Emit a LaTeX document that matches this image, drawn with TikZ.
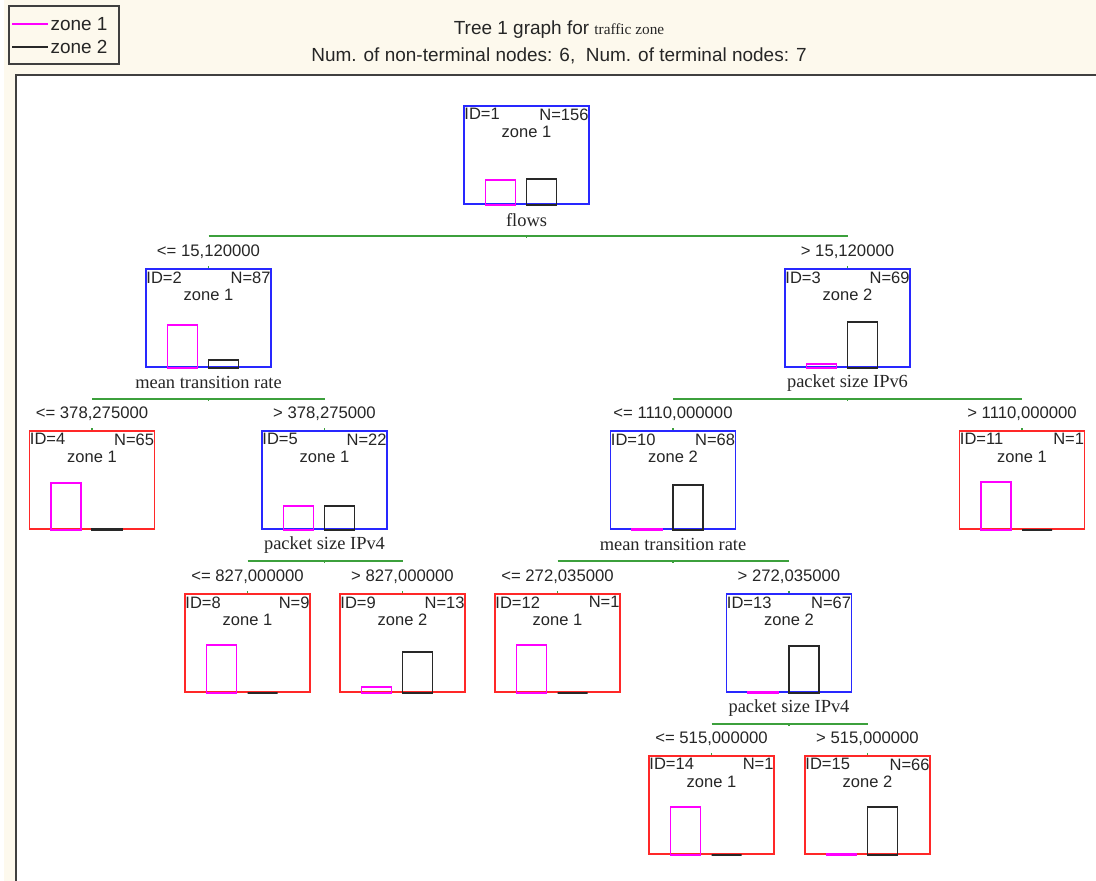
\documentclass[tikz,border=0pt]{standalone}
\usepackage{fontspec}
\setmainfont{Liberation Serif}
\setsansfont{Liberation Sans}
\usetikzlibrary{calc,positioning}
\definecolor{cream}{RGB}{253,249,237}
\definecolor{framegray}{RGB}{64,64,64}
\definecolor{splitgreen}{RGB}{60,160,60}
\definecolor{barpink}{RGB}{255,0,255}
\definecolor{barblack}{RGB}{40,40,40}
\definecolor{leafred}{RGB}{255,40,40}
\definecolor{splitblue}{RGB}{40,40,255}
\tikzset{
  splitbox/.style={
    draw=splitblue,
    line width=1.1pt,
    fill=white,
    minimum width=2.5cm,
    minimum height=1.96cm,
    inner sep=0pt
  },
  leafbox/.style={
    splitbox,
    draw=leafred
  },
  boxtext/.style={
    font=\sffamily\fontsize{9.4}{10}\selectfont,
    text=black!85,
    inner xsep=0.6pt,
    inner ysep=1.8pt
  },
  condtext/.style={
    font=\sffamily\fontsize{9.5}{10}\selectfont,
    text=black!85,
    inner sep=0pt
  },
  vartext/.style={
    font=\fontsize{10.5}{12}\selectfont,
    text=black!85,
    inner sep=0pt
  },
  titletext/.style={
    font=\sffamily\fontsize{10.8}{12}\selectfont,
    text=black!85,
    inner sep=0pt
  },
  pinkbar/.style={draw=barpink, line width=0.9pt},
  blackbar/.style={draw=barblack, line width=0.9pt},
  splitline/.style={draw=splitgreen, line width=0.9pt}
}
% one tree box: name, style, centre x, top y, ID, N, zone, pink height, black height
\newcommand{\treebox}[9]{%
  \node[#2] (#1) at (#3,#4+49) {};
  \node[boxtext, anchor=north west] (#1id) at (#1.north west) {ID=#5};
  \node[boxtext, anchor=north east] (#1n) at (#1.north east) {N=#6};
  \node[boxtext] (#1zone) at ($(#1.north)+(0,27)$) {#7};
  \draw[pinkbar] ($(#1.south)+(-41,0)$) rectangle ++(30,-#8);
  \draw[blackbar] ($(#1.south)+(0,0)$) rectangle ++(30,-#9);
}
% split under a box: parent, variable, left child, right child
\newcommand{\splitunder}[4]{%
  \node[vartext] (#1var) at ($(#1.south)+(0,15)$) {#2};
  \coordinate (#1split) at ($(#1.south)+(0,31)$);
  \draw[splitline] (#1split -| #3) -- (#1split -| #4);
  \draw[splitline] (#1split) -- ++(0,2);
  \draw[splitline] (#3.north) -- ++(0,-2);
  \draw[splitline] (#4.north) -- ++(0,-2);
}

\begin{document}
\begin{tikzpicture}[x=0.02cm, y=-0.02cm]
  \useasboundingbox (0,0) rectangle (1096,881);
  % background and plot frame
  \fill[cream] (4,0) rectangle (1096,881);
  \fill[white] (16,75) rectangle (1096,881);
  \draw[framegray, line width=1.3pt] (16,881) -- (16,75) -- (1096,75);

  % legend
  \draw[framegray, line width=0.7pt, fill=cream] (9,6) rectangle (119,64);
  \coordinate (lg1) at (12,24);
  \coordinate (lg2) at (12,47);
  \draw[barpink, line width=0.9pt] (lg1) -- ++(36,0) node[titletext, anchor=west, inner sep=1pt] (lgz1) {zone 1};
  \draw[barblack, line width=0.9pt] (lg2) -- ++(36,0) node[titletext, anchor=west, inner sep=1pt] (lgz2) {zone 2};

  % title
  \node[titletext] (title1) at (559,30) {Tree 1 graph for {\rmfamily\fontsize{8.7}{10}\selectfont traffic zone}};
  \node[titletext] (title2) at (559,56) {Num. of non-terminal nodes: 6,\ \ Num. of terminal nodes: 7};

  % level 1
  \treebox{n1}{splitbox}{526.5}{106}{1}{156}{zone 1}{25}{26}
  % level 2
  \treebox{n2}{splitbox}{208.5}{269}{2}{87}{zone 1}{43}{8}
  \treebox{n3}{splitbox}{847.5}{269}{3}{69}{zone 2}{4}{46}
  % level 3
  \treebox{n4}{leafbox}{92}{431}{4}{65}{zone 1}{47}{1}
  \treebox{n5}{splitbox}{324.5}{431}{5}{22}{zone 1}{24}{24}
  \treebox{n10}{splitbox}{673}{431}{10}{68}{zone 2}{1}{45}
  \treebox{n11}{leafbox}{1022}{431}{11}{1}{zone 1}{48}{0}
  % level 4
  \treebox{n8}{leafbox}{247.5}{594}{8}{9}{zone 1}{48}{0}
  \treebox{n9}{leafbox}{402.5}{594}{9}{13}{zone 2}{6}{41}
  \treebox{n12}{leafbox}{557.5}{594}{12}{1}{zone 1}{48}{0}
  \treebox{n13}{splitbox}{789}{594}{13}{67}{zone 2}{1}{47}
  % level 5
  \treebox{n14}{leafbox}{711.5}{756}{14}{1}{zone 1}{48}{0}
  \treebox{n15}{leafbox}{867.5}{756}{15}{66}{zone 2}{1}{48}

  % splits
  \splitunder{n1}{flows}{n2}{n3}
  \splitunder{n2}{mean transition rate}{n4}{n5}
  \splitunder{n3}{packet size IPv6}{n10}{n11}
  \splitunder{n5}{packet size IPv4}{n8}{n9}
  \splitunder{n10}{mean transition rate}{n12}{n13}
  \splitunder{n13}{packet size IPv4}{n14}{n15}

  % split conditions above the child boxes
  \node[condtext] (c2) at ($(n2.north)+(0,-16)$) {<= 15,120000};
  \node[condtext] (c3) at ($(n3.north)+(0,-16)$) {> 15,120000};
  \node[condtext] (c4) at ($(n4.north)+(0,-16)$) {<= 378,275000};
  \node[condtext] (c5) at ($(n5.north)+(0,-16)$) {> 378,275000};
  \node[condtext] (c10) at ($(n10.north)+(0,-16)$) {<= 1110,000000};
  \node[condtext] (c11) at ($(n11.north)+(0,-16)$) {> 1110,000000};
  \node[condtext] (c8) at ($(n8.north)+(0,-16)$) {<= 827,000000};
  \node[condtext] (c9) at ($(n9.north)+(0,-16)$) {> 827,000000};
  \node[condtext] (c12) at ($(n12.north)+(0,-16)$) {<= 272,035000};
  \node[condtext] (c13) at ($(n13.north)+(0,-16)$) {> 272,035000};
  \node[condtext] (c14) at ($(n14.north)+(0,-16)$) {<= 515,000000};
  \node[condtext] (c15) at ($(n15.north)+(0,-16)$) {> 515,000000};
\end{tikzpicture}
\end{document}
